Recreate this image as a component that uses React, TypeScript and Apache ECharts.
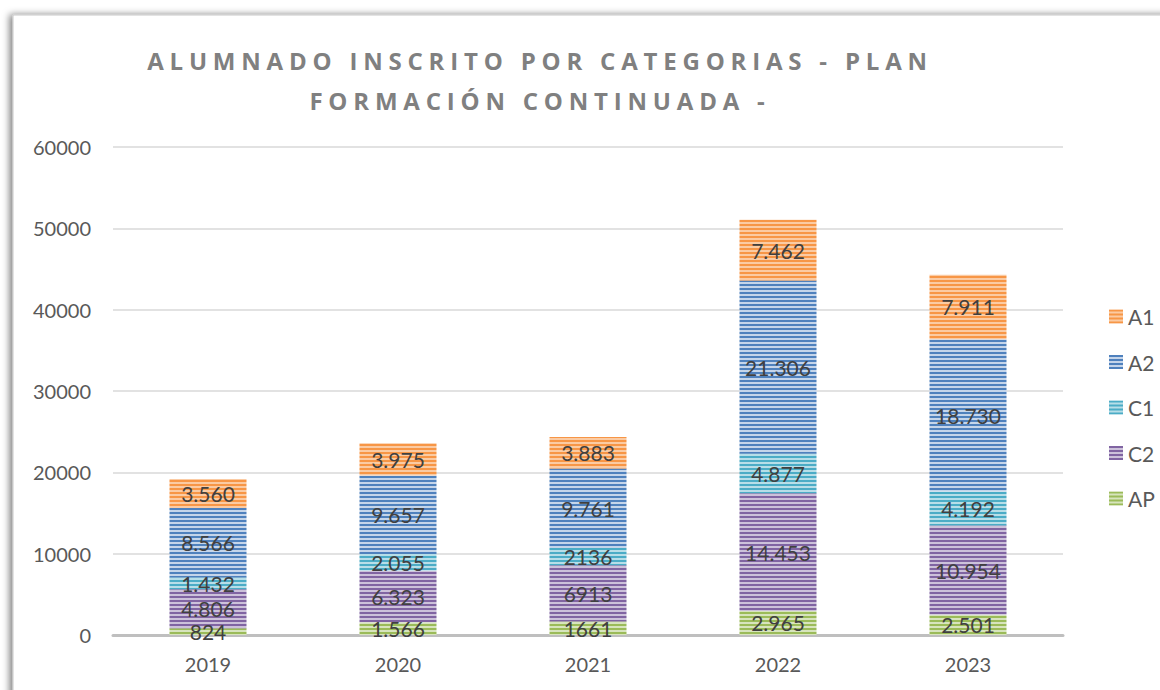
import React, { useEffect, useRef } from "react";
import * as echarts from "echarts";

const categories = ["2019", "2020", "2021", "2022", "2023"];
const legendOrder = ["A1", "A2", "C1", "C2", "AP"];

const apValues = [824, 1566, 1661, 2965, 2501];
const c2Values = [4806, 6323, 6913, 14453, 10954];
const c1Values = [1432, 2055, 2136, 4877, 4192];
const a2Values = [8566, 9657, 9761, 21306, 18730];
const a1Values = [3560, 3975, 3883, 7462, 7911];

const apLabels = ["824", "1.566", "1661", "2.965", "2.501"];
const c2Labels = ["4.806", "6.323", "6913", "14.453", "10.954"];
const c1Labels = ["1.432", "2.055", "2136", "4.877", "4.192"];
const a2Labels = ["8.566", "9.657", "9.761", "21.306", "18.730"];
const a1Labels = ["3.560", "3.975", "3.883", "7.462", "7.911"];

const yMin = 0;
const yMax = 60000;
const yInterval = 10000;

const titleLine1 = "ALUMNADO INSCRITO POR CATEGORIAS - PLAN";
const titleLine2 = "FORMACIÓN CONTINUADA -";

function stripe(color: string, light: string) {
  const c = document.createElement("canvas");
  c.width = 4;
  c.height = 4;
  const ctx = c.getContext("2d")!;
  ctx.fillStyle = light;
  ctx.fillRect(0, 0, 4, 4);
  ctx.fillStyle = color;
  ctx.fillRect(0, 0, 4, 2);
  return { image: c.toDataURL(), repeat: "repeat", imageWidth: 4, imageHeight: 4 } as any;
}

export default function App() {
  const ref = useRef<HTMLDivElement>(null);
  useEffect(() => {
    if (!ref.current) return;
    const chart = echarts.init(ref.current, null, { renderer: "svg" });
    const defs = [
      { name: "AP", data: apValues, labels: apLabels, color: "#9BBB59", light: "#D7E4BD" },
      { name: "C2", data: c2Values, labels: c2Labels, color: "#8064A2", light: "#CCC1DA" },
      { name: "C1", data: c1Values, labels: c1Labels, color: "#4BACC6", light: "#B7DEE8" },
      { name: "A2", data: a2Values, labels: a2Labels, color: "#4F81BD", light: "#C5D5EA" },
      { name: "A1", data: a1Values, labels: a1Labels, color: "#F79646", light: "#FBCBA3" },
    ];
    const font = "Lato";
    const titleStyle = {
      fill: "#808080",
      fontSize: 24,
      fontWeight: "bold",
      fontFamily: "Open Sans",
      textAlign: "center",
      textVerticalAlign: "middle",
    };
    chart.setOption({
      animation: false,
      backgroundColor: "#ffffff",
      graphic: [
        {
          type: "rect",
          z: -10,
          silent: true,
          shape: { x: 13, y: 15, width: 1200, height: 720 },
          style: {
            fill: "#ffffff",
            stroke: "#c8c8c8",
            lineWidth: 1,
            shadowBlur: 7,
            shadowColor: "rgba(0,0,0,0.5)",
            shadowOffsetX: -3,
            shadowOffsetY: 0,
          },
        },
        { type: "text", x: 540, y: 60, style: { ...titleStyle, text: titleLine1 } },
        { type: "text", x: 540, y: 100, style: { ...titleStyle, text: titleLine2 } },
      ],
      legend: {
        data: legendOrder,
        orient: "vertical",
        left: 1104,
        top: 301,
        itemWidth: 14,
        itemHeight: 14,
        itemGap: 24.5,
        icon: "rect",
        textStyle: { fontSize: 21, color: "#595959", fontFamily: font },
      },
      grid: { left: 113, right: 97, top: 147, bottom: 55, containLabel: false },
      xAxis: {
        type: "category",
        data: categories,
        axisLine: { show: true, lineStyle: { color: "#bfbfbf", width: 3 } },
        axisTick: { show: false },
        axisLabel: { color: "#595959", fontSize: 20, fontFamily: font, margin: 19 },
      },
      yAxis: {
        type: "value",
        min: yMin,
        max: yMax,
        interval: yInterval,
        axisLine: { show: false },
        axisTick: { show: false },
        splitLine: { lineStyle: { color: "#d9d9d9", width: 1.5 } },
        axisLabel: {
          color: "#595959",
          fontSize: 20,
          fontFamily: font,
          margin: 22,
          formatter: (v: number) => String(v),
        },
      },
      series: defs.map((d) => ({
        name: d.name,
        type: "bar",
        stack: "total",
        barWidth: 77,
        data: d.data,
        itemStyle: { color: stripe(d.color, d.light) },
        label: {
          show: true,
          position: "inside",
          color: "#404040",
          fontSize: 21,
          fontFamily: font,
          formatter: (p: any) => d.labels[p.dataIndex],
        },
      })),
    });
    return () => chart.dispose();
  }, []);
  return (
    <div style={{ position: "fixed", left: 0, top: 0, width: 1160, height: 690, background: "#fff" }}>
      <style>{`svg text[style*="Open Sans"]{letter-spacing:5.8px;}`}</style>
      <div ref={ref} style={{ width: 1160, height: 690 }} />
    </div>
  );
}
